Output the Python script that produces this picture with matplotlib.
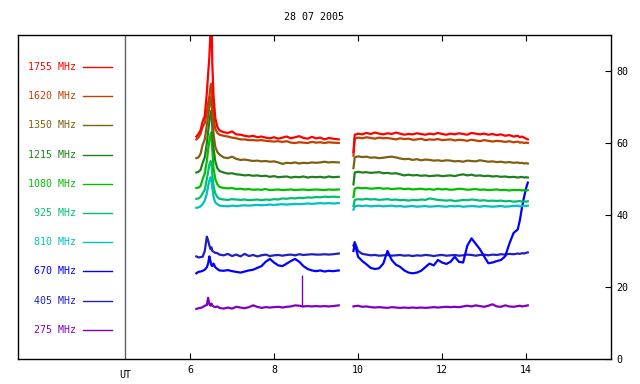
import matplotlib
matplotlib.use("Agg")
import matplotlib.pyplot as plt

TITLE = "28 07 2005"

FREQS = ["1755 MHz", "1620 MHz", "1350 MHz", "1215 MHz", "1080 MHz",
         "925 MHz", "810 MHz", "670 MHz", "405 MHz", "275 MHz"]
COLORS = ["#ff0000", "#c04000", "#806010", "#208020", "#00c000",
          "#00c070", "#00c0c0", "#0000ff", "#2020c0", "#8000c0"]

# first observing block (UT hours)
T1 = [6.15, 6.20, 6.25, 6.30, 6.35, 6.40, 6.43, 6.46, 6.49, 6.51, 6.53, 6.56, 6.60,
      6.65, 6.70, 6.80, 6.90, 7.00, 7.10, 7.20, 7.30, 7.40, 7.50, 7.60, 7.70, 7.80,
      7.90, 8.00, 8.10, 8.20, 8.30, 8.40, 8.50, 8.60, 8.70, 8.80, 8.90, 9.00, 9.10,
      9.20, 9.30, 9.40, 9.54]

F1755_A = [61.8, 62.5, 63.5, 66.0, 67.5, 74.0, 79.0, 84.0, 92.0, 96.0, 82.0, 73.0, 67.0,
           64.5, 63.5, 63.0, 62.8, 63.2, 62.4, 62.3, 62.0, 61.8, 62.0, 61.6, 61.8, 61.5,
           61.3, 61.6, 61.2, 61.5, 61.8, 61.3, 61.6, 61.9, 61.4, 61.2, 61.7, 61.3, 61.5,
           61.0, 61.4, 61.2, 61.0]
F1620_A = [61.0, 61.5, 62.5, 64.5, 65.5, 68.5, 71.0, 73.0, 76.0, 76.5, 72.0, 67.0, 64.0,
           62.8, 62.3, 62.0, 61.8, 61.5, 61.3, 61.0, 61.0, 60.8, 60.8, 60.7, 60.8, 60.6,
           60.5, 60.4, 60.5, 60.3, 60.5, 60.1, 60.0, 60.2, 60.1, 60.0, 60.3, 60.1, 60.2,
           60.0, 60.2, 60.1, 60.0]
F1350_A = [55.8, 56.0, 57.0, 59.5, 61.0, 65.0, 67.5, 70.0, 72.5, 73.0, 68.0, 62.5, 59.0,
           57.5, 56.8, 56.0, 55.8, 56.2, 55.6, 55.3, 55.4, 55.2, 55.0, 55.1, 54.9, 55.0,
           54.8, 54.9, 54.6, 54.2, 54.5, 54.4, 54.6, 54.3, 54.5, 54.4, 54.6, 54.5, 54.6,
           54.8, 54.6, 54.7, 54.6]
F1215_A = [51.8, 52.0, 52.5, 54.5, 56.0, 60.0, 63.0, 66.0, 68.5, 69.0, 64.0, 58.5, 55.0,
           53.0, 52.2, 51.8, 51.5, 51.6, 51.3, 51.2, 51.0, 51.1, 50.9, 51.0, 50.8, 50.9,
           50.6, 50.8, 50.5, 50.6, 50.7, 50.4, 50.6, 50.5, 50.7, 50.4, 50.6, 50.5, 50.6,
           50.4, 50.7, 50.5, 50.6]
F1080_A = [47.5, 47.6, 48.0, 50.0, 51.5, 55.0, 58.0, 60.5, 62.5, 63.0, 58.0, 53.0, 50.0,
           48.5, 47.8, 47.5, 47.4, 47.5, 47.2, 47.3, 47.1, 47.2, 47.0, 47.1, 47.0, 47.2,
           46.9, 47.0, 47.1, 46.9, 47.0, 47.1, 46.9, 47.0, 47.1, 46.9, 47.0, 47.1, 47.0,
           46.9, 47.1, 47.0, 47.1]
F925_A = [44.5, 44.6, 45.0, 46.0, 47.0, 50.0, 52.0, 54.0, 55.0, 54.5, 51.0, 48.0, 46.0,
          45.0, 44.5, 44.3, 44.2, 44.4, 44.3, 44.2, 44.3, 44.1, 44.2, 44.3, 44.1, 44.3,
          44.2, 44.4, 44.3, 44.6, 44.5, 44.7, 44.6, 44.8, 44.7, 44.9, 44.8, 45.0, 44.9,
          45.1, 45.0, 45.1, 45.0]
F810_A = [42.0, 42.1, 42.4, 43.0, 44.0, 46.0, 48.0, 49.5, 50.5, 50.0, 47.5, 45.0, 43.5,
          43.0, 42.6, 42.5, 42.4, 42.6, 42.5, 42.6, 42.7, 42.6, 42.7, 42.8, 42.7, 42.8,
          42.9, 42.8, 42.9, 43.0, 42.9, 43.0, 43.1, 43.0, 43.1, 43.2, 43.1, 43.2, 43.3,
          43.2, 43.3, 43.2, 43.3]
F670_A = [23.8, 24.2, 24.3, 24.5, 24.8, 25.5, 26.5, 28.5, 27.0, 26.0, 25.8, 26.5, 25.5,
          25.0, 24.6, 24.5, 24.7, 24.4, 24.2, 24.0, 24.3, 24.6, 24.8, 25.3, 25.8, 27.0,
          27.8, 26.8, 26.0, 25.8, 26.5, 27.2, 27.8, 27.0, 25.8, 25.0, 24.6, 24.4, 24.6,
          24.3, 24.5, 24.4, 24.6]
F405_A = [28.5, 28.2, 28.3, 28.4, 30.0, 34.0, 33.0, 31.5, 30.5, 31.0, 30.0, 29.8, 29.5,
          29.4, 29.0, 28.8, 29.2, 28.6, 29.0, 28.5, 29.2, 28.6, 28.9, 28.5, 28.8, 29.0,
          28.6, 28.8, 28.9, 28.7, 28.9, 29.0, 28.8, 29.1, 28.9, 29.0, 29.1, 29.0, 29.0,
          29.1, 29.0, 29.1, 29.3]
F275_A = [13.9, 14.1, 14.2, 14.4, 14.8, 15.0, 17.0, 15.2, 14.8, 15.4, 14.9, 14.6, 14.4,
          14.6, 14.2, 14.0, 14.3, 14.0, 14.5, 14.3, 14.1, 14.4, 14.9, 14.5, 14.2, 14.4,
          14.3, 14.4, 14.5, 14.3, 14.5, 14.6, 14.9, 14.8, 14.6, 14.7, 14.6, 14.7, 14.6,
          14.7, 14.6, 14.7, 14.9]
SPIKE_275 = (8.67, 23.3)

# second observing block
T2 = [9.89, 9.92, 10.0, 10.1, 10.2, 10.3, 10.4, 10.5, 10.6, 10.7, 10.8, 10.9, 11.0,
      11.1, 11.2, 11.3, 11.4, 11.5, 11.6, 11.7, 11.8, 11.9, 12.0, 12.1, 12.2, 12.3,
      12.4, 12.5, 12.6, 12.7, 12.8, 12.9, 13.0, 13.1, 13.2, 13.3, 13.4, 13.5, 13.6,
      13.7, 13.8, 13.85, 13.9, 13.95, 14.0, 14.04]

F1755_B = [57.5, 62.3, 62.6, 62.4, 62.8, 62.5, 62.9, 62.6, 62.4, 62.7, 62.5, 62.9, 62.6,
           62.3, 62.5, 62.4, 62.7, 62.5, 62.3, 62.6, 62.4, 62.8, 62.5, 62.3, 62.6, 62.4,
           62.7, 62.5, 62.3, 62.8, 62.6, 62.4, 62.6, 62.3, 62.5, 62.2, 62.4, 62.0, 62.2,
           61.8, 62.0, 61.6, 61.8, 61.5, 61.2, 61.0]
F1620_B = [56.5, 61.2, 61.5, 61.3, 61.6, 61.4, 61.2, 61.5, 61.3, 61.4, 61.2, 61.0, 61.3,
           61.1, 61.2, 60.9, 61.0, 61.2, 60.8, 61.0, 60.9, 61.1, 60.8, 60.9, 61.0, 60.7,
           60.9, 60.8, 60.6, 60.9, 60.7, 60.5, 60.8, 60.6, 60.4, 60.6, 60.5, 60.3, 60.5,
           60.2, 60.4, 60.1, 60.2, 60.0, 60.1, 60.0]
F1350_B = [53.0, 56.0, 56.3, 56.1, 56.2, 55.9, 56.0, 55.8, 55.9, 56.1, 56.2, 56.0, 55.7,
           55.5, 55.6, 55.3, 55.5, 55.2, 55.4, 55.3, 55.1, 55.2, 55.0, 55.2, 55.1, 54.9,
           55.0, 54.8, 55.1, 55.0, 54.9, 55.2, 55.0, 54.8, 54.9, 54.7, 54.8, 54.6, 54.7,
           54.5, 54.6, 54.4, 54.5, 54.3, 54.4, 54.3]
F1215_B = [48.5, 51.8, 52.0, 51.8, 51.9, 51.7, 51.8, 51.9, 51.6, 51.7, 51.5, 51.6, 51.3,
           51.0, 51.2, 51.0, 51.1, 50.9, 51.0, 50.8, 50.9, 51.0, 50.8, 50.9, 51.0, 50.8,
           51.1, 51.3, 51.0, 51.2, 50.9, 51.0, 50.8, 50.9, 50.7, 50.8, 50.6, 50.7, 50.5,
           50.6, 50.4, 50.5, 50.6, 50.4, 50.5, 50.4]
F1080_B = [45.0, 47.3, 47.6, 47.4, 47.5, 47.3, 47.4, 47.5, 47.3, 47.4, 47.2, 47.3, 47.4,
           47.2, 47.3, 47.1, 47.2, 47.3, 47.1, 47.2, 47.0, 47.3, 47.1, 47.2, 47.0, 47.1,
           47.3, 47.2, 47.0, 47.1, 47.2, 47.0, 47.1, 46.9, 47.0, 47.1, 46.9, 47.0, 46.8,
           47.0, 46.9, 47.0, 46.8, 46.9, 46.8, 46.9]
F925_B = [42.5, 44.2, 44.4, 44.3, 44.5, 44.3, 44.4, 44.2, 44.3, 44.4, 44.2, 44.3, 44.1,
          44.2, 44.0, 44.2, 44.1, 44.3, 44.2, 44.6, 44.4, 44.2, 44.1, 44.0, 44.1, 43.9,
          44.0, 44.2, 44.1, 44.3, 44.2, 44.0, 44.1, 43.9, 44.0, 43.9, 44.0, 43.8, 43.9,
          43.7, 43.8, 43.9, 43.7, 43.8, 43.7, 43.8]
F810_B = [41.5, 42.4, 42.6, 42.5, 42.6, 42.4, 42.5, 42.6, 42.4, 42.5, 42.6, 42.4, 42.5,
          42.3, 42.4, 42.5, 42.3, 42.4, 42.5, 42.3, 42.4, 42.5, 42.4, 42.3, 42.5, 42.4,
          42.5, 42.3, 42.4, 42.5, 42.4, 42.3, 42.5, 42.4, 42.3, 42.4, 42.5, 42.3, 42.4,
          42.5, 42.6, 42.4, 42.5, 42.6, 42.5, 42.6]
F670_B = [30.0, 32.0, 28.4, 27.2, 26.3, 25.3, 25.0, 25.2, 26.5, 30.0, 27.5, 26.2, 25.6,
          24.6, 24.0, 23.8, 24.0, 24.5, 25.5, 26.5, 26.0, 27.5, 26.8, 26.4, 27.0, 28.4,
          27.0, 26.8, 31.5, 33.5, 32.0, 30.5, 28.5, 26.6, 26.8, 27.2, 27.5, 28.5, 32.0,
          35.0, 36.0, 38.5, 42.0, 45.0, 47.5, 49.0]
F405_B = [31.5, 32.5, 30.0, 29.2, 29.0, 28.8, 28.9, 28.7, 28.8, 28.9, 28.7, 28.8, 28.9,
          28.7, 28.8, 28.6, 28.8, 28.7, 28.9, 28.8, 28.6, 28.8, 28.9, 28.7, 28.8, 28.9,
          28.7, 28.8, 29.0, 28.9, 28.7, 28.9, 29.0, 28.8, 29.0, 28.9, 29.1, 29.0, 29.2,
          29.1, 29.3, 29.2, 29.4, 29.3, 29.5, 29.6]
F275_B = [14.6, 14.7, 14.8, 14.5, 14.6, 14.4, 14.3, 14.4, 14.3, 14.2, 14.4, 14.3, 14.2,
          14.3, 14.2, 14.3, 14.2, 14.3, 14.2, 14.3, 14.4, 14.3, 14.4, 14.5, 14.4, 14.5,
          14.4, 14.6, 14.8, 14.6, 14.9, 14.7, 14.5, 14.8, 15.2, 14.6, 14.5, 14.9, 14.6,
          14.5, 14.7, 14.8, 14.6, 14.7, 14.8, 14.9]

SERIES_A = [F1755_A, F1620_A, F1350_A, F1215_A, F1080_A, F925_A, F810_A, F670_A, F405_A, F275_A]
SERIES_B = [F1755_B, F1620_B, F1350_B, F1215_B, F1080_B, F925_B, F810_B, F670_B, F405_B, F275_B]

X_TICKS = [6, 8, 10, 12, 14]
Y_TICKS = [0, 20, 40, 60, 80]
UT_POS = 4.46

MONO = "DejaVu Sans Mono"

fig = plt.figure(figsize=(6.4, 3.84), dpi=100)
ax = fig.add_axes([18 / 640, 25 / 384, 593 / 640, 324 / 384])
ax.set_xlim(1.905, 16.02)
ax.set_ylim(0, 90)

# low frequencies first so the high ones sit on top like the original
for name, color, ya, yb in reversed(list(zip(FREQS, COLORS, SERIES_A, SERIES_B))):
    ax.plot(T1, ya, color=color, lw=1.6)
    ax.plot(T2, yb, color=color, lw=1.6)
ax.vlines(SPIKE_275[0], 14.5, SPIKE_275[1], color=COLORS[-1], lw=1.0)

ax.axvline(UT_POS, color="#606060", lw=1.0)

# legend column on the left
for i, (name, color) in enumerate(zip(FREQS, COLORS)):
    yf = (359 - (67 + 29.2 * i)) / 324
    ax.text(0.098, yf, name, color=color, transform=ax.transAxes,
            ha="right", va="center", fontsize=7.2, family=MONO)
    ax.plot([0.1096, 0.1585], [yf, yf], color=color, lw=1.0,
            transform=ax.transAxes, clip_on=False)

ax.set_xticks(X_TICKS)
ax.set_xticklabels([str(v) for v in X_TICKS], family=MONO, fontsize=7.2)
ax.set_yticks(Y_TICKS)
ax.set_yticklabels([str(v) for v in Y_TICKS], family=MONO, fontsize=7.2)
ax.yaxis.tick_right()
ax.tick_params(axis="x", direction="in", length=4, width=0.8, top=True, pad=4)
ax.tick_params(axis="y", direction="in", length=4, width=0.8, left=False, right=True, pad=4)
for sp in ax.spines.values():
    sp.set_linewidth(1.0)
    sp.set_color("black")

ax.text(UT_POS, -0.035, "UT", transform=ax.get_xaxis_transform(),
        ha="center", va="top", fontsize=7.2, family=MONO)
fig.text(314 / 640, 1 - 17 / 384, TITLE, ha="center", va="center", fontsize=7.2, family=MONO)

fig.savefig("out.png", dpi=100)
